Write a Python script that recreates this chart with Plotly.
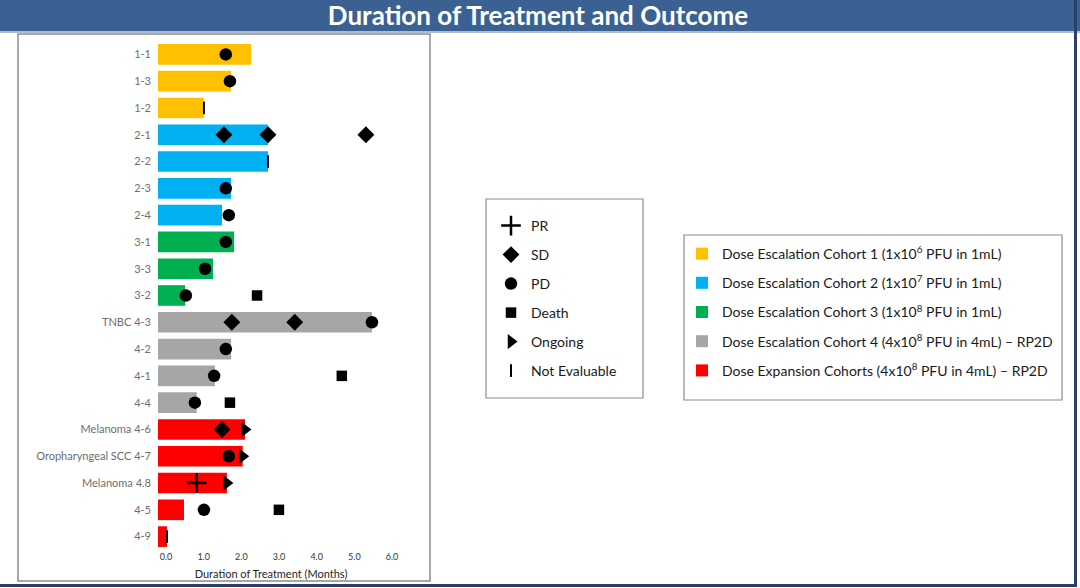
import plotly.graph_objects as go

# ---------------- data ----------------
patients = ["1-1", "1-3", "1-2", "2-1", "2-2", "2-3", "2-4", "3-1", "3-3", "3-2",
            "TNBC 4-3", "4-2", "4-1", "4-4", "Melanoma 4-6", "Oropharyngeal SCC 4-7",
            "Melanoma 4.8", "4-5", "4-9"]
duration = [2.47, 1.94, 1.22, 2.92, 2.92, 1.94, 1.70, 2.02, 1.46, 0.72,
            5.68, 1.94, 1.51, 1.03, 2.31, 2.25, 1.83, 0.69, 0.24]
cohort = [1, 1, 1, 2, 2, 2, 2, 3, 3, 3, 4, 4, 4, 4, 5, 5, 5, 5, 5]

cohort_names = [
    "Dose Escalation Cohort 1 (1x10<sup>6</sup> PFU in 1mL)",
    "Dose Escalation Cohort 2 (1x10<sup>7</sup> PFU in 1mL)",
    "Dose Escalation Cohort 3 (1x10<sup>8</sup> PFU in 1mL)",
    "Dose Escalation Cohort 4 (4x10<sup>8</sup> PFU in 4mL) – RP2D",
    "Dose Expansion Cohorts (4x10<sup>8</sup> PFU in 4mL) – RP2D",
]
cohort_colors = ["#FFC000", "#00B0F0", "#00B050", "#A6A6A6", "#FF0000"]

pr_patients = ["Melanoma 4.8"]
pr_x = [1.03]
sd_patients = ["2-1", "2-1", "2-1", "TNBC 4-3", "TNBC 4-3", "Melanoma 4-6"]
sd_x = [1.75, 2.92, 5.52, 1.96, 3.63, 1.70]
pd_patients = ["1-1", "1-3", "2-3", "2-4", "3-1", "3-3", "3-2", "TNBC 4-3", "4-2",
               "4-1", "4-4", "Oropharyngeal SCC 4-7", "4-5"]
pd_x = [1.80, 1.91, 1.80, 1.88, 1.80, 1.25, 0.74, 5.68, 1.80, 1.49, 0.98, 1.88, 1.22]
death_patients = ["3-2", "4-1", "4-4", "4-5"]
death_x = [2.63, 4.88, 1.91, 3.21]
ongoing_patients = ["Melanoma 4-6", "Oropharyngeal SCC 4-7", "Melanoma 4.8"]
ongoing_x = [2.31, 2.25, 1.83]
ne_patients = ["1-2", "2-2", "4-9"]
ne_x = [1.22, 2.92, 0.24]

x_ticks = [0, 1, 2, 3, 4, 5, 6]
x_ticklabels = ["0.0", "1.0", "2.0", "3.0", "4.0", "5.0", "6.0"]

# ---------------- geometry ----------------
W, H = 1080, 588
ML, MR, MT, MB = 158, 696, 41, 38
PW, PH = W - ML - MR, H - MT - MB


def px(x):
    return (x - ML) / PW


def py(y):
    return (H - MB - y) / PH


FONT = "Lato"

fig = go.Figure()

for i, name in enumerate(cohort_names):
    ys = [p for p, c in zip(patients, cohort) if c == i + 1]
    xs = [d for d, c in zip(duration, cohort) if c == i + 1]
    fig.add_trace(go.Bar(
        x=xs, y=ys, orientation="h", name=name,
        marker=dict(color=cohort_colors[i], line=dict(width=0)),
        width=0.77, legend="legend2", legendgroup=f"c{i}",
        hoverinfo="x+y",
    ))

outcomes = [
    ("PR", pr_patients, pr_x, "cross-thin", 14, 2.5),
    ("SD", sd_patients, sd_x, "diamond", 13, 0),
    ("PD", pd_patients, pd_x, "circle", 12.5, 0),
    ("Death", death_patients, death_x, "square", 10.5, 0),
    ("Ongoing", ongoing_patients, ongoing_x, "triangle-right", 13, 0),
    ("Not Evaluable", ne_patients, ne_x, "line-ns", 9, 2),
]
for name, ys, xs, sym, size, lw in outcomes:
    fig.add_trace(go.Scatter(
        x=xs, y=ys, mode="markers", name=name,
        marker=dict(symbol=sym, size=size, color="black",
                    line=dict(width=lw, color="black")),
        legend="legend", legendgroup=name,
    ))

shapes = []
# title band
shapes.append(dict(type="rect", xref="paper", yref="paper",
                   x0=px(0), x1=px(W), y0=py(0), y1=py(31),
                   fillcolor="#3A6191", line=dict(width=0), layer="below"))
shapes.append(dict(type="rect", xref="paper", yref="paper",
                   x0=px(0), x1=px(W), y0=py(31), y1=py(33),
                   fillcolor="#A9BBD6", line=dict(width=0), layer="below"))
# bottom and right navy lines
shapes.append(dict(type="rect", xref="paper", yref="paper",
                   x0=px(0), x1=px(1077), y0=py(584), y1=py(587),
                   fillcolor="#2B3F6B", line=dict(width=0), layer="below"))
shapes.append(dict(type="rect", xref="paper", yref="paper",
                   x0=px(1074), x1=px(1077), y0=py(0), y1=py(587),
                   fillcolor="#2B3F6B", line=dict(width=0), layer="below"))
# chart panel frame
shapes.append(dict(type="rect", xref="paper", yref="paper",
                   x0=px(18), x1=px(430), y0=py(34), y1=py(581),
                   fillcolor="white", line=dict(width=1.5, color="#8C8C8C"), layer="below"))
# legend boxes
shapes.append(dict(type="rect", xref="paper", yref="paper",
                   x0=px(486), x1=px(643), y0=py(199), y1=py(398),
                   fillcolor="white", line=dict(width=1.2, color="#8C8C8C"), layer="below"))
shapes.append(dict(type="rect", xref="paper", yref="paper",
                   x0=px(684), x1=px(1062), y0=py(235), y1=py(400),
                   fillcolor="white", line=dict(width=1.2, color="#8C8C8C"), layer="below"))

fig.update_layout(
    template="none",
    width=W, height=H,
    margin=dict(l=ML, r=MR, t=MT, b=MB, autoexpand=False),
    paper_bgcolor="white", plot_bgcolor="rgba(0,0,0,0)",
    barmode="overlay",
    shapes=shapes,
    title=dict(text="<b>Duration of Treatment and Outcome</b>",
               font=dict(family=FONT, size=26, color="white"),
               x=538 / W, xref="container", xanchor="center",
               y=1 - 16 / H, yref="container", yanchor="middle"),
    font=dict(family=FONT, color="#262626"),
    xaxis=dict(range=[0, 6], tickmode="array", tickvals=x_ticks, ticktext=x_ticklabels,
               showgrid=False, zeroline=False, showline=False, ticks="",
               automargin=False, ticklabelshift=8,
               tickfont=dict(size=9, color="#333333"),
               title=dict(text="Duration of Treatment (Months)",
                          font=dict(size=11, color="#262626"), standoff=9),
               fixedrange=True),
    yaxis=dict(type="category", categoryorder="array", categoryarray=patients,
               range=[len(patients) - 0.5, -0.5], automargin=False,
               showgrid=False, zeroline=False, showline=False, ticks="",
               ticklabelstandoff=6,
               tickfont=dict(size=11, color="#6E6E6E"),
               fixedrange=True),
    legend=dict(xref="container", yref="container",
                x=491 / W, y=1 - 210 / H, xanchor="left", yanchor="top",
                font=dict(family=FONT, size=14, color="#1A1A1A"),
                bgcolor="rgba(0,0,0,0)", borderwidth=0,
                tracegroupgap=7.8, itemsizing="trace"),
    legend2=dict(xref="container", yref="container",
                 x=682 / W, y=1 - 238 / H, xanchor="left", yanchor="top",
                 font=dict(family=FONT, size=14, color="#1A1A1A"),
                 bgcolor="rgba(0,0,0,0)", borderwidth=0,
                 tracegroupgap=8),
    showlegend=True,
)

fig.write_html("out.html")
